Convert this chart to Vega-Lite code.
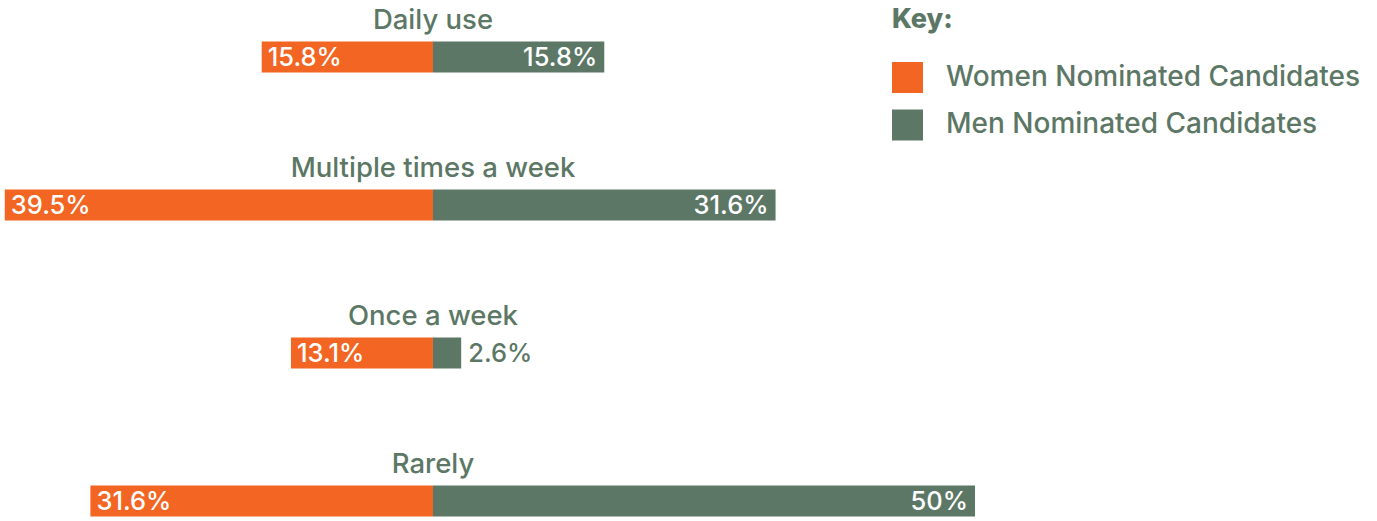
{
  "$schema": "https://vega.github.io/schema/vega-lite/v6.json",
  "width": 1377,
  "height": 521,
  "autosize": {"type": "fit", "contains": "padding"},
  "padding": 0,
  "background": "white",
  "config": {"view": {"stroke": null}, "font": "Inter"},
  "data": {
    "values": [
      {"freq": "Daily use", "group": "Women Nominated Candidates", "value": 15.8},
      {"freq": "Daily use", "group": "Men Nominated Candidates", "value": 15.8},
      {"freq": "Multiple times a week", "group": "Women Nominated Candidates", "value": 39.5},
      {"freq": "Multiple times a week", "group": "Men Nominated Candidates", "value": 31.6},
      {"freq": "Once a week", "group": "Women Nominated Candidates", "value": 13.1},
      {"freq": "Once a week", "group": "Men Nominated Candidates", "value": 2.6},
      {"freq": "Rarely", "group": "Women Nominated Candidates", "value": 31.6},
      {"freq": "Rarely", "group": "Men Nominated Candidates", "value": 50}
    ]
  },
  "transform": [
    {"calculate": "datum.group === 'Women Nominated Candidates' ? -datum.value : datum.value", "as": "signed"},
    {"calculate": "format(datum.value, '.1~f') + '%'", "as": "label"}
  ],
  "encoding": {
    "y": {
      "field": "freq",
      "type": "nominal",
      "axis": null,
      "sort": ["Daily use", "Multiple times a week", "Once a week", "Rarely"],
      "scale": {"type": "point", "domain": ["Daily use", "Multiple times a week", "Once a week", "Rarely"], "range": [57, 501], "padding": 0}
    }
  },
  "layer": [
    {
      "mark": {"type": "bar", "size": 31},
      "encoding": {
        "x": {"field": "signed", "type": "quantitative", "axis": null, "scale": {"domain": [-39.94, 87.08], "nice": false, "zero": false}},
        "x2": {"datum": 0},
        "color": {
          "field": "group",
          "type": "nominal",
          "scale": {"domain": ["Women Nominated Candidates", "Men Nominated Candidates"], "range": ["#F26522", "#5C7765"]},
          "legend": {
            "orient": "none",
            "legendX": 892,
            "legendY": 7,
            "title": "Key:",
            "titleFontSize": 27,
            "titleFontWeight": 800,
            "titleColor": "#5C7765",
            "labelColor": "#5C7765",
            "labelFontSize": 28,
            "labelFontWeight": 500,
            "symbolType": "square",
            "symbolSize": 961,
            "symbolStrokeWidth": 0,
            "symbolOpacity": 1,
            "rowPadding": 16.5,
            "titlePadding": 28,
            "labelOffset": 23,
            "padding": 0,
            "labelLimit": 600
          }
        }
      }
    },
    {
      "transform": [{"filter": "datum.group === 'Women Nominated Candidates'"}],
      "mark": {"type": "text", "align": "left", "baseline": "middle", "dx": 6, "dy": 1, "fontSize": 25.5, "fontWeight": 500, "color": "white"},
      "encoding": {
        "x": {"field": "signed", "type": "quantitative"},
        "text": {"field": "label"}
      }
    },
    {
      "transform": [{"filter": "datum.group === 'Men Nominated Candidates' && datum.value >= 5"}],
      "mark": {"type": "text", "align": "right", "baseline": "middle", "dx": -7, "dy": 1, "fontSize": 25.5, "fontWeight": 500, "color": "white"},
      "encoding": {
        "x": {"field": "signed", "type": "quantitative"},
        "text": {"field": "label"}
      }
    },
    {
      "transform": [{"filter": "datum.group === 'Men Nominated Candidates' && datum.value < 5"}],
      "mark": {"type": "text", "align": "left", "baseline": "middle", "dx": 7, "dy": 1, "fontSize": 25.5, "fontWeight": 500, "color": "#5C7765"},
      "encoding": {
        "x": {"field": "signed", "type": "quantitative"},
        "text": {"field": "label"}
      }
    },
    {
      "transform": [{"filter": "datum.group === 'Women Nominated Candidates'"}],
      "mark": {"type": "text", "align": "center", "baseline": "middle", "dy": -36, "fontSize": 27.5, "fontWeight": 500, "color": "#5C7765"},
      "encoding": {
        "x": {"datum": 0},
        "text": {"field": "freq"}
      }
    }
  ]
}
